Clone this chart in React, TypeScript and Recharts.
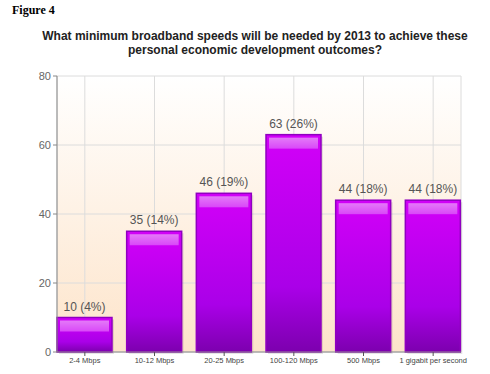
import { BarChart, Bar, XAxis, YAxis, CartesianGrid, LabelList } from 'recharts'

const categories = ['2-4 Mbps', '10-12 Mbps', '20-25 Mbps', '100-120 Mbps', '500 Mbps', '1 gigabit per second']
const counts = [10, 35, 46, 63, 44, 44]
const percents = [4, 14, 19, 26, 18, 18]
const yTicks = [0, 20, 40, 60, 80]

const data = categories.map((name, i) => ({ name, value: counts[i], pct: percents[i] }))

const GlossyBar = (props: any) => {
  const { x, y, width, height } = props
  if (!height || height <= 0) return null
  const hl = Math.min(11, Math.max(height - 8, 0))
  return (
    <g>
      <rect x={x + 2} y={y + 2} width={width} height={height} fill="#000" opacity={0.1} />
      <rect x={x} y={y} width={width} height={height} fill="url(#barFill)" stroke="#9000c0" strokeWidth={1.5} />
      {hl > 0 && <rect x={x + 3} y={y + 3} width={width - 6} height={hl} fill="url(#barShine)" />}
    </g>
  )
}

export default function App() {
  return (
    <div style={{ position: 'absolute', left: 0, top: 0, width: 490, height: 374, background: '#fff', fontFamily: 'Liberation Sans, Arial, sans-serif' }}>
      <div style={{ position: 'absolute', left: 12, top: 3, fontFamily: 'Liberation Serif, Times New Roman, serif', fontWeight: 'bold', fontSize: 12 }}>
        Figure 4
      </div>
      <div style={{ position: 'absolute', left: 0, width: 510, top: 29, textAlign: 'center', fontWeight: 'bold', fontSize: 12, lineHeight: '14px', color: '#222' }}>
        What minimum broadband speeds will be needed by 2013 to achieve these<br />
        personal economic development outcomes?
      </div>
      <BarChart
        width={490}
        height={374}
        data={data}
        margin={{ top: 76, right: 29, bottom: 2, left: 0 }}
        barSize={55}
      >
        <defs>
          <linearGradient id="bgFill" x1="0" y1="0" x2="0" y2="1">
            <stop offset="0%" stopColor="#ffffff" />
            <stop offset="100%" stopColor="#fde4ca" />
          </linearGradient>
          <linearGradient id="barFill" x1="0" y1="0" x2="0" y2="1">
            <stop offset="0%" stopColor="#d200f8" />
            <stop offset="70%" stopColor="#aa00e8" />
            <stop offset="100%" stopColor="#7c00ae" />
          </linearGradient>
          <linearGradient id="barShine" x1="0" y1="0" x2="0" y2="1">
            <stop offset="0%" stopColor="#e47af8" />
            <stop offset="100%" stopColor="#d948f8" />
          </linearGradient>
        </defs>
        <CartesianGrid stroke="#dcdcdc" fill="url(#bgFill)" fillOpacity={1} />
        <XAxis
          dataKey="name"
          height={20}
          padding={{ left: -7, right: -7 }}
          axisLine={{ stroke: '#888' }}
          tickLine={{ stroke: '#555' }}
          tickSize={4}
          tick={{ fontSize: 7.5, fill: '#444' }}
          interval={0}
        />
        <YAxis
          width={57}
          domain={[0, 80]}
          ticks={yTicks}
          axisLine={{ stroke: '#888' }}
          tickLine={{ stroke: '#888' }}
          tickSize={4}
          tick={{ fontSize: 11, fill: '#666' }}
        />
        <Bar dataKey="value" shape={<GlossyBar />} isAnimationActive={false}>
          <LabelList
            dataKey="value"
            position="top"
            content={(p: any) => {
              const { x, y, width, index } = p
              return (
                <text x={x + width / 2} y={y - 7} textAnchor="middle" fontSize={12} fill="#555">
                  {`${counts[index]} (${percents[index]}%)`}
                </text>
              )
            }}
          />
        </Bar>
      </BarChart>
    </div>
  )
}
